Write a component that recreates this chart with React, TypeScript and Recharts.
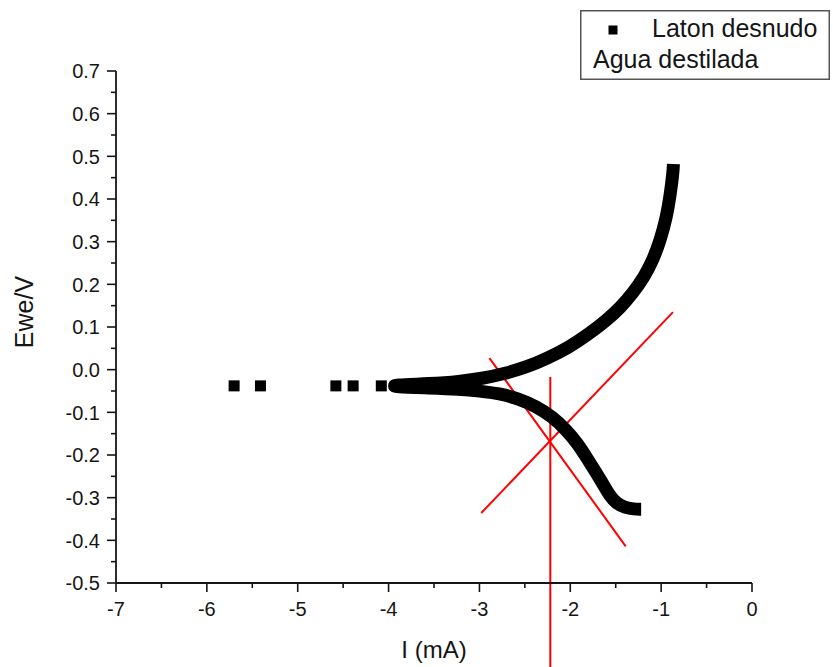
import React from 'react';
import { ScatterChart, Scatter, XAxis, YAxis, ReferenceLine, Legend, Label } from 'recharts';

const FONT = '"Liberation Sans", Arial, sans-serif';
const INK = '#151515';

// tick labels
const xMajor = [-7, -6, -5, -4, -3, -2, -1, 0];
const yMajor = [-0.5, -0.4, -0.3, -0.2, -0.1, 0, 0.1, 0.2, 0.3, 0.4, 0.5, 0.6, 0.7];
const xTicks = [...xMajor, ...xMajor.slice(1).map((v) => v - 0.5)].sort((a, b) => a - b);
const yTicks = [...yMajor, ...yMajor.slice(1).map((v) => v - 0.05)].sort((a, b) => a - b);

// isolated points near the corrosion potential
const isoI = [-5.7, -5.41, -4.58, -4.39, -4.08];
const isoE = [-0.038, -0.038, -0.038, -0.038, -0.038];

// sweep: cathodic branch (right to left), then anodic branch (left to right)
const curveI = [
  -1.22, -1.3, -1.4, -1.49, -1.57, -1.64, -1.72, -1.82, -1.92, -2.04, -2.2, -2.37, -2.57, -2.78, -3.0, -3.22, -3.55, -3.95,
  -3.95, -3.55, -3.22, -2.95, -2.72, -2.48, -2.25, -2.01, -1.8, -1.6, -1.45, -1.31, -1.19, -1.09, -1.01, -0.94, -0.9, -0.87, -0.865,
];
const curveE = [
  -0.327, -0.327, -0.323, -0.314, -0.294, -0.268, -0.24, -0.206, -0.173, -0.142, -0.11, -0.087, -0.068, -0.056, -0.05, -0.046, -0.043, -0.04,
  -0.036, -0.033, -0.028, -0.02, -0.009, 0.006, 0.027, 0.053, 0.083, 0.116, 0.145, 0.18, 0.216, 0.257, 0.303, 0.358, 0.41, 0.46, 0.482,
];

// red construction lines (Tafel extrapolation)
const tafelCathodic = [{ x: -2.89, y: 0.027 }, { x: -1.39, y: -0.414 }];
const tafelAnodic = [{ x: -2.98, y: -0.336 }, { x: -0.87, y: 0.135 }];
const icorrLine = [{ x: -2.22, y: -0.017 }, { x: -2.22, y: -0.7 }];

const isoData = isoI.map((x, i) => ({ x, y: isoE[i] }));
const curveData = curveI.map((x, i) => ({ x, y: curveE[i] }));

const YTick = (props: any) => {
  const { x, y, payload } = props;
  const major = yMajor.some((v) => Math.abs(v - payload.value) < 1e-6);
  const ax = x + 16;
  return (
    <g>
      <line x1={ax - (major ? 9 : 5)} x2={ax} y1={y} y2={y} stroke={INK} strokeWidth={1.6} />
      {major && (
        <text x={x} y={y} dy="0.36em" textAnchor="end" fontSize={20} fontFamily={FONT} fill={INK}>
          {payload.value.toFixed(1)}
        </text>
      )}
    </g>
  );
};

const XTick = (props: any) => {
  const { x, y, payload } = props;
  const major = xMajor.some((v) => Math.abs(v - payload.value) < 1e-6);
  const ay = y - 19;
  return (
    <g>
      <line x1={x} x2={x} y1={ay} y2={ay + (major ? 9 : 5)} stroke={INK} strokeWidth={1.6} />
      {major && (
        <text x={x} y={y} dy="0.71em" textAnchor="middle" fontSize={20} fontFamily={FONT} fill={INK}>
          {payload.value}
        </text>
      )}
    </g>
  );
};

const Square = (props: any) => {
  const { cx, cy } = props;
  return <rect x={cx - 5.5} y={cy - 5.5} width={11} height={11} fill="#000" />;
};

const LegendBox = () => (
  <svg width={250} height={70} style={{ display: 'block' }}>
    <rect x={0.75} y={0.75} width={248.5} height={68.5} fill="#fff" stroke="#555" strokeWidth={1.5} />
    <rect x={28.5} y={15.5} width={9} height={9} fill="#000" />
    <text x={72} y={27} fontSize={25} fontFamily={FONT} fill={INK}>Laton desnudo</text>
    <text x={13} y={58} fontSize={25} fontFamily={FONT} fill={INK}>Agua destilada</text>
  </svg>
);

export default function App() {
  return (
    <div style={{ position: 'absolute', left: 0, top: 0, width: 833, height: 667, background: '#fff' }}>
      <ScatterChart width={833} height={667} margin={{ top: 71, right: 81, bottom: 0, left: 0 }}>
        <XAxis
          type="number"
          dataKey="x"
          domain={[-7, 0]}
          ticks={xTicks}
          interval={0}
          height={84}
          tickSize={9}
          tickMargin={10}
          tickLine={false}
          tick={<XTick />}
          axisLine={{ stroke: INK, strokeWidth: 1.8 }}
        >
          <Label
            content={() => (
              <text x={434} y={658} textAnchor="middle" fontSize={24} fontFamily={FONT} fill={INK}>
                I (mA)
              </text>
            )}
          />
        </XAxis>
        <YAxis
          type="number"
          dataKey="y"
          domain={[-0.5, 0.7]}
          ticks={yTicks}
          interval={0}
          width={116}
          tickSize={9}
          tickMargin={7}
          tickLine={false}
          tick={<YTick />}
          axisLine={{ stroke: INK, strokeWidth: 1.8 }}
        >
          <Label
            content={() => (
              <text
                x={33}
                y={312}
                transform="rotate(-90, 33, 312)"
                textAnchor="middle"
                fontSize={25}
                fontFamily={FONT}
                fill={INK}
              >
                Ewe/V
              </text>
            )}
          />
        </YAxis>
        <Legend
          layout="vertical"
          align="center"
          verticalAlign="middle"
          wrapperStyle={{ position: 'absolute', left: 580, top: 10, width: 250, height: 70 }}
          content={<LegendBox />}
        />
        <Scatter
          name="Laton desnudo"
          data={curveData}
          fill="#000"
          line={{ stroke: '#000', strokeWidth: 13, strokeLinejoin: 'round', strokeLinecap: 'butt' }}
          lineType="joint"
          lineJointType="basis"
          shape={() => <g />}
          isAnimationActive={false}
        />
        <Scatter name="Laton desnudo pts" data={isoData} fill="#000" shape={<Square />} isAnimationActive={false} legendType="none" />
        <ReferenceLine segment={tafelCathodic} stroke="#ff0000" strokeWidth={2} ifOverflow="visible" />
        <ReferenceLine segment={tafelAnodic} stroke="#ff0000" strokeWidth={2} ifOverflow="visible" />
        <ReferenceLine segment={icorrLine} stroke="#ff0000" strokeWidth={2} ifOverflow="visible" />
      </ScatterChart>
    </div>
  );
}
